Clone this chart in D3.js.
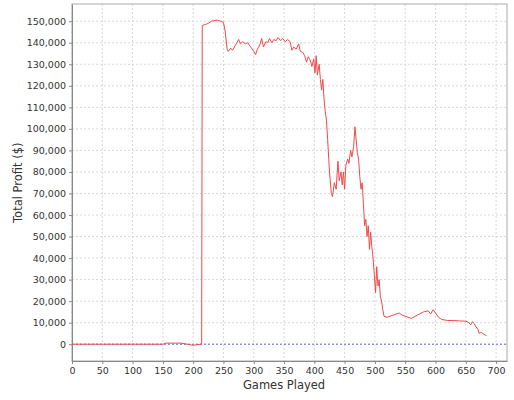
<!DOCTYPE html>
<html><head><meta charset="utf-8">
<script src="https://cdn.jsdelivr.net/npm/d3@7"></script>
<style>body{margin:0;background:#fff}</style>
</head><body>
<svg width="514" height="400"></svg>
<script>
// games played vs total profit
const games = [0,50,100,150,155,180,190,200,212,214,215,220,225,230,240,245,250,253,256,258,262,265,270,275,278,282,286,290,295,300,303,306,310,313,316,320,323,326,330,333,337,340,344,348,352,356,360,363,366,370,374,377,381,384,387,390,393,396,399,401,403,405,408,410,412,414,416,418,420,422,425,428,430,433,436,439,441,444,446,448,450,452,455,457,460,462,465,467,469,471,473,475,477,479,481,483,485,487,489,491,493,495,497,499,501,503,505,507,509,511,513,515,520,530,540,545,550,560,570,580,588,592,596,600,605,610,620,630,640,650,655,658,661,664,667,670,672,676,680,684];
const profit = [0,0,0,0,500,500,0,-500,0,0,148000,148500,149000,150000,150500,150000,149500,145000,137000,136000,137500,136500,139000,141500,139500,140500,139500,140000,138000,136000,134500,137000,139000,142000,138000,140500,140000,142000,140000,141500,141000,142500,141000,142000,140500,141500,140500,136500,138000,137000,139500,136000,135500,134000,131000,133500,132000,129000,132500,126000,134000,125000,130000,123000,118000,123000,114000,108000,104000,95000,80000,70000,68500,75000,72000,85000,76000,80000,74000,80000,72000,83000,86000,84000,90000,87000,92000,101000,95000,89000,86000,78000,72000,75000,65000,55000,58000,50000,55000,44000,52000,45000,40000,32000,24000,36000,27000,30000,22000,20000,16000,13000,12500,13500,14500,13500,13000,12000,13500,15000,15500,14000,16000,14500,12500,11500,11000,11000,10800,10700,10000,9000,10500,9500,8000,7000,5000,5500,4500,4000];
const xTicks = d3.range(0, 701, 50);
const yTicks = d3.range(0, 150001, 10000);
const data = games.map((g, i) => ({ g, p: profit[i] }));

const svg = d3.select('svg');
const margin = { top: 4, right: 7, bottom: 39, left: 72 };
const width = 514 - margin.left - margin.right;
const height = 400 - margin.top - margin.bottom;
const g = svg.append('g').attr('transform', `translate(${margin.left},${margin.top})`);

const x = d3.scaleLinear().domain([0, 718]).range([0, width]);
const y = d3.scaleLinear().domain([-7800, 158000]).range([height, 0]);

// grid
g.append('g').selectAll('line').data(xTicks).join('line')
  .attr('x1', d => x(d)).attr('x2', d => x(d)).attr('y1', 0).attr('y2', height)
  .attr('stroke', '#d8d8d8').attr('stroke-dasharray', '2,2');
g.append('g').selectAll('line').data(yTicks).join('line')
  .attr('y1', d => y(d)).attr('y2', d => y(d)).attr('x1', 0).attr('x2', width)
  .attr('stroke', '#d8d8d8').attr('stroke-dasharray', '2,2');

g.append('line').attr('x1', 0).attr('x2', width).attr('y1', y(0)).attr('y2', y(0))
  .attr('stroke', '#6a6ae0').attr('stroke-dasharray', '2,2');

g.append('rect').attr('width', width).attr('height', height)
  .attr('fill', 'none').attr('stroke', '#aaa');

const font = 'DejaVu Sans, sans-serif';
const xa = g.append('g').attr('transform', `translate(0,${height})`)
  .call(d3.axisBottom(x).tickValues(xTicks).tickSize(3).tickSizeOuter(0));
const ya = g.append('g')
  .call(d3.axisLeft(y).tickValues(yTicks).tickFormat(d3.format(',')).tickSize(3).tickSizeOuter(0));
[xa, ya].forEach(a => {
  a.select('.domain').attr('stroke', '#888');
  a.selectAll('line').attr('stroke', '#888');
  a.selectAll('text').attr('font-family', font).attr('font-size', 9.5).attr('fill', '#333');
});

const line = d3.line().x(d => x(d.g)).y(d => y(d.p));
g.append('path').datum(data)
  .attr('fill', 'none').attr('stroke', '#f04a4a').attr('stroke-width', 1).attr('d', line);

svg.append('text').attr('x', margin.left + x(350)).attr('y', 389)
  .attr('text-anchor', 'middle').attr('font-family', font).attr('font-size', 11.5)
  .attr('fill', '#333').text('Games Played');
svg.append('text').attr('transform', `translate(22,${margin.top + y(75000)}) rotate(-90)`)
  .attr('text-anchor', 'middle').attr('font-family', font).attr('font-size', 11.5)
  .attr('fill', '#333').text('Total Profit ($)');
</script>
</body></html>
